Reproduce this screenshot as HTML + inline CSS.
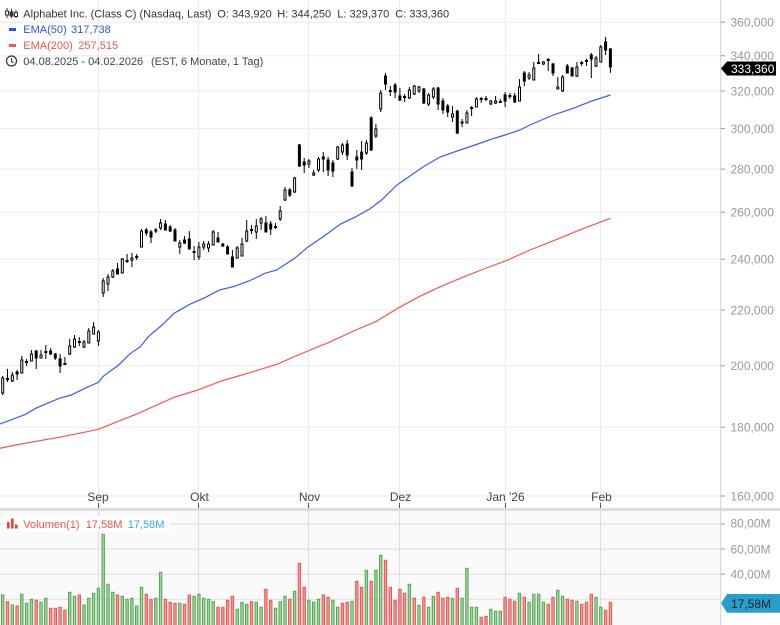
<!DOCTYPE html>
<html><head><meta charset="utf-8"><style>
html,body{margin:0;padding:0;background:#fff;}
body{width:780px;height:625px;overflow:hidden;}
svg{display:block;font-family:"Liberation Sans",Arial,sans-serif;}
</style></head><body>
<svg width="780" height="625" viewBox="0 0 780 625" xmlns="http://www.w3.org/2000/svg">
<rect x="0" y="0" width="780" height="625" fill="#fff"/>
<rect x="0" y="511" width="720.5" height="114" fill="#fafafa"/>
<g stroke="#ebebeb" stroke-width="1" fill="none">
<path d="M0 22.3H720.5M0 55.7H720.5M0 91H720.5M0 128.6H720.5M0 169.1H720.5M0 212.3H720.5M0 259.2H720.5M0 310H720.5M0 365.7H720.5M0 427.2H720.5M0 496H720.5"/>
<path d="M98.5 0V503M198.5 0V503M308.5 0V503M399.5 0V503M505.5 0V503M600.5 0V503"/>
</g>
<g stroke="#dedede" stroke-width="1" fill="none">
<path d="M0 524H720.5M0 549H720.5M0 574.3H720.5M0 599.3H720.5"/>
<path d="M98.5 511V625M198.5 511V625M308.5 511V625M399.5 511V625M505.5 511V625M600.5 511V625"/>
</g>
<rect x="0" y="508" width="780" height="3" fill="#dcdcdc"/>
<path d="M98.5 503V508M198.5 503V508M308.5 503V508M399.5 503V508M505.5 503V508M600.5 503V508" stroke="#555" stroke-width="1"/>
<path d="M720.7 0V625" stroke="#d0d0d0" stroke-width="1"/>
<path d="M721 22.3h4M721 55.7h4M721 91h4M721 128.6h4M721 169.1h4M721 212.3h4M721 259.2h4M721 310h4M721 365.7h4M721 427.2h4M721 496h4M721 524h4M721 549h4M721 574.3h4" stroke="#999" stroke-width="1"/>

<polyline fill="none" stroke="#f25a4a" stroke-width="1.2" points="0,448.3 15.8,445 39.5,440.7 59.3,437.3 79.1,433.3 98.5,429.3 114.7,422.7 138.4,413.3 174,397.3 197.7,390 221.4,381 253.1,371.7 276.8,364.3 300.5,354 328.2,342.7 355.9,330 375.6,321.7 399.4,307.3 419.1,296.7 438.9,287.3 462.6,277.3 486.4,268 506.1,260.7 529.9,250 553.6,240.7 581.3,229.3 610.4,218.3"/>
<polyline fill="none" stroke="#3a5cf5" stroke-width="1.2" points="0,424 25.7,414.3 35.6,408.3 59.3,398.3 71.2,395 85,388.3 98.5,382.3 102.8,376.7 118.6,365 130.5,353.3 140.4,346.7 148.3,336.7 162.1,325 174,313.3 189.8,304.3 205.6,297.3 219.5,290 233.3,286.7 249.1,281 264.9,273.3 276.8,270 294.6,258.3 308.4,246.7 324.2,236 340.1,224.3 355.9,216.7 369.7,209 381.6,200 397,185 410,176 423,167 440,157 460,150 475,145 491,139.3 505,135 520,130 530,125 553.3,115 573.3,108.3 590,101.7 610.4,95"/>

<path stroke="#000" stroke-width="1" fill="none" d="M2.7 376V395M7.5 369V382M12.3 372V382M17.1 370V380M21.8 356V373M26.6 359V366M31.4 350V361M36.2 350V369M41 350V358M45.8 345V359M50.6 348V355M55.3 353V360M60.1 354V373M64.9 357V365M69.7 339V355M74.5 335V348M79.3 337V346M84 340V348M88.8 328V343M93.6 322V334M98.4 330V346M103.2 278V297M108 274V291M112.8 269V278M117.5 263V274M122.3 258V273M127.1 254V263M131.9 253V267M136.7 254V260M141.5 229V247M146.3 228V236M151 230V243M155.8 228V233M160.6 219V230M165.4 220V230M170.2 225V232M175 228V241M179.8 240V254M184.5 236V244M189.3 231V249M194.1 246V260M198.9 242V260M203.7 241V250M208.5 241V252M213.2 230V245M218 232V242M222.8 243V247M227.6 245V254M232.4 250V267M237.2 246V258M242 238V256M246.7 220V242M251.5 225V234M256.3 219V239M261.1 217V230M265.9 216V232M270.7 221V235M275.5 223V229M280.2 206V221M285 187V201M289.8 188V197M294.6 177V193M299.4 144V167M304.2 158V173M308.9 159V168M313.7 170V176M318.5 157V172M323.3 152V172M328.1 157V176M332.9 160V177M337.7 146V160M342.4 143V155M347.2 140V160M352 168V187M356.8 150V169M361.6 141V170M366.4 140V155M371.2 116V151M375.9 124V138M380.7 90V112M385.5 73V90M390.3 86V96M395.1 83V98M399.9 88V101M404.6 94V102M409.4 87V99M414.2 85V95M419 86V93M423.8 88V104M428.6 93V106M433.4 87V99M438.1 87V110M442.9 98V114M447.7 104V117M452.5 106V122M457.3 110V134M462.1 119V127M466.9 110V123M471.6 106V116M476.4 97V107M481.2 97V103M486 96V101M490.8 100V105M495.6 96V104M500.3 99V103M505.1 92V107M509.9 93V99M514.7 93V103M519.5 79V101M524.3 71V86M529.1 72V80M533.8 62V80M538.6 54V64M543.4 61V65M548.2 58V71M553 63V76M557.8 77V89M562.6 75V92M567.3 64V73M572.1 67V76M576.9 62V77M581.7 61V66M586.5 59V66M591.3 53V78M596 56V67M600.8 45V62M605.6 37V55M610.4 48V73"/>
<g fill="#fff" stroke="#000" stroke-width="1">
<rect x="1.7" y="378" width="2" height="15"/><rect x="11.3" y="375" width="2" height="6"/><rect x="20.8" y="360" width="2" height="13"/><rect x="30.4" y="354" width="2" height="7"/><rect x="40" y="355" width="2" height="3"/><rect x="68.7" y="346" width="2" height="8"/><rect x="73.5" y="339" width="2" height="8"/><rect x="83" y="342" width="2" height="5"/><rect x="87.8" y="331" width="2" height="12"/><rect x="92.6" y="327" width="2" height="7"/><rect x="97.4" y="332" width="2" height="9"/><rect x="102.2" y="281" width="2" height="12"/><rect x="107" y="277" width="2" height="7"/><rect x="111.8" y="271" width="2" height="6"/><rect x="121.3" y="259" width="2" height="14"/><rect x="130.9" y="258" width="2" height="2"/><rect x="140.5" y="231" width="2" height="16"/><rect x="159.6" y="223" width="2" height="5"/><rect x="178.8" y="243" width="2" height="4"/><rect x="197.9" y="247" width="2" height="10"/><rect x="202.7" y="244" width="2" height="3"/><rect x="207.5" y="244" width="2" height="4"/><rect x="212.2" y="232" width="2" height="13"/><rect x="236.2" y="248" width="2" height="10"/><rect x="241" y="244" width="2" height="12"/><rect x="245.7" y="231" width="2" height="10"/><rect x="255.3" y="226" width="2" height="6"/><rect x="260.1" y="219" width="2" height="4"/><rect x="279.2" y="211" width="2" height="8"/><rect x="284" y="190" width="2" height="10"/><rect x="293.6" y="178" width="2" height="14"/><rect x="307.9" y="161" width="2" height="3"/><rect x="312.7" y="173" width="2" height="2"/><rect x="317.5" y="159" width="2" height="11"/><rect x="336.7" y="147" width="2" height="12"/><rect x="341.4" y="145" width="2" height="7"/><rect x="365.4" y="143" width="2" height="10"/><rect x="374.9" y="129" width="2" height="7"/><rect x="379.7" y="93" width="2" height="16"/><rect x="408.4" y="90" width="2" height="8"/><rect x="413.2" y="86" width="2" height="8"/><rect x="418" y="87" width="2" height="4"/><rect x="427.6" y="95" width="2" height="9"/><rect x="432.4" y="89" width="2" height="8"/><rect x="451.5" y="114" width="2" height="3"/><rect x="465.9" y="113" width="2" height="10"/><rect x="475.4" y="99" width="2" height="8"/><rect x="489.8" y="101" width="2" height="3"/><rect x="494.6" y="101" width="2" height="2"/><rect x="518.5" y="87" width="2" height="14"/><rect x="528.1" y="75" width="2" height="3"/><rect x="532.8" y="68" width="2" height="12"/><rect x="542.4" y="62" width="2" height="2"/><rect x="556.8" y="87" width="2" height="2"/><rect x="561.6" y="77" width="2" height="14"/><rect x="575.9" y="67" width="2" height="9"/><rect x="595" y="58" width="2" height="8"/><rect x="599.8" y="47" width="2" height="15"/>
</g>
<g fill="#000">
<rect x="6" y="378" width="3" height="2"/><rect x="15.6" y="371.5" width="3" height="3"/><rect x="25.1" y="361" width="3" height="2"/><rect x="34.7" y="350.5" width="3" height="8"/><rect x="44.3" y="351" width="3" height="2"/><rect x="49.1" y="350.5" width="3" height="4"/><rect x="53.8" y="353.5" width="3" height="5"/><rect x="58.6" y="358.5" width="3" height="8"/><rect x="63.4" y="363" width="3" height="2"/><rect x="77.8" y="341" width="3" height="2"/><rect x="116" y="268.5" width="3" height="6"/><rect x="125.6" y="260" width="3" height="2"/><rect x="135.2" y="256" width="3" height="2"/><rect x="144.8" y="229.5" width="3" height="4"/><rect x="149.5" y="231.5" width="3" height="6"/><rect x="154.3" y="229.5" width="3" height="2"/><rect x="163.9" y="223.5" width="3" height="7"/><rect x="168.7" y="226.5" width="3" height="5"/><rect x="173.5" y="229.5" width="3" height="12"/><rect x="183" y="239.5" width="3" height="4"/><rect x="187.8" y="238.5" width="3" height="11"/><rect x="192.6" y="251" width="3" height="2"/><rect x="216.5" y="237.5" width="3" height="5"/><rect x="221.3" y="243.5" width="3" height="3"/><rect x="226.1" y="246.5" width="3" height="8"/><rect x="230.9" y="256.5" width="3" height="11"/><rect x="250" y="229" width="3" height="2"/><rect x="264.4" y="222.5" width="3" height="10"/><rect x="269.2" y="223.5" width="3" height="6"/><rect x="274" y="226" width="3" height="2"/><rect x="288.3" y="189.5" width="3" height="6"/><rect x="297.9" y="144.5" width="3" height="22"/><rect x="302.7" y="161.5" width="3" height="4"/><rect x="321.8" y="156.5" width="3" height="3"/><rect x="326.6" y="159.5" width="3" height="11"/><rect x="331.4" y="162.5" width="3" height="9"/><rect x="345.7" y="143.5" width="3" height="12"/><rect x="350.5" y="171.5" width="3" height="15"/><rect x="355.3" y="156.5" width="3" height="4"/><rect x="360.1" y="151.5" width="3" height="8"/><rect x="369.7" y="117.5" width="3" height="33"/><rect x="384" y="75.5" width="3" height="9"/><rect x="388.8" y="90" width="3" height="2"/><rect x="393.6" y="84.5" width="3" height="8"/><rect x="398.4" y="95.5" width="3" height="5"/><rect x="403.1" y="96" width="3" height="2"/><rect x="422.3" y="88.5" width="3" height="15"/><rect x="436.6" y="87.5" width="3" height="17"/><rect x="441.4" y="100.5" width="3" height="10"/><rect x="446.2" y="105.5" width="3" height="7"/><rect x="455.8" y="110.5" width="3" height="23"/><rect x="460.6" y="121.5" width="3" height="2"/><rect x="470.1" y="107" width="3" height="2"/><rect x="479.7" y="98" width="3" height="2"/><rect x="484.5" y="98" width="3" height="2"/><rect x="498.8" y="101" width="3" height="2"/><rect x="503.6" y="94.5" width="3" height="7"/><rect x="508.4" y="95" width="3" height="2"/><rect x="513.2" y="95.5" width="3" height="7"/><rect x="522.8" y="72.5" width="3" height="9"/><rect x="537.1" y="62" width="3" height="2"/><rect x="546.7" y="59" width="3" height="2"/><rect x="551.5" y="63.5" width="3" height="10"/><rect x="565.8" y="65.5" width="3" height="8"/><rect x="570.6" y="67.5" width="3" height="9"/><rect x="580.2" y="62" width="3" height="2"/><rect x="585" y="60" width="3" height="2"/><rect x="589.8" y="54.5" width="3" height="5"/><rect x="604.1" y="41.5" width="3" height="9"/><rect x="608.9" y="48.5" width="3" height="19"/>
</g>

<g fill="#9dd89d" stroke="#57a457" stroke-width="1">
<rect x="1.5" y="595" width="2.4" height="31"/><rect x="11.1" y="605" width="2.4" height="21"/><rect x="20.6" y="594.3" width="2.4" height="31.7"/><rect x="25.4" y="603.3" width="2.4" height="22.7"/><rect x="30.2" y="599.3" width="2.4" height="26.7"/><rect x="39.8" y="602.3" width="2.4" height="23.7"/><rect x="44.6" y="598.3" width="2.4" height="27.7"/><rect x="68.5" y="592.3" width="2.4" height="33.7"/><rect x="73.3" y="596.3" width="2.4" height="29.7"/><rect x="82.8" y="605" width="2.4" height="21"/><rect x="87.6" y="598.3" width="2.4" height="27.7"/><rect x="92.4" y="593.3" width="2.4" height="32.7"/><rect x="97.2" y="588.3" width="2.4" height="37.7"/><rect x="102" y="534.3" width="2.4" height="91.7"/><rect x="106.8" y="584.3" width="2.4" height="41.7"/><rect x="111.6" y="592.3" width="2.4" height="33.7"/><rect x="121.1" y="596.3" width="2.4" height="29.7"/><rect x="125.9" y="599.3" width="2.4" height="26.7"/><rect x="130.7" y="598.3" width="2.4" height="27.7"/><rect x="135.5" y="606" width="2.4" height="20"/><rect x="140.3" y="587.3" width="2.4" height="38.7"/><rect x="154.6" y="598.3" width="2.4" height="27.7"/><rect x="159.4" y="572.3" width="2.4" height="53.7"/><rect x="178.6" y="603.3" width="2.4" height="22.7"/><rect x="192.9" y="596.3" width="2.4" height="29.7"/><rect x="197.7" y="594.3" width="2.4" height="31.7"/><rect x="202.5" y="598.3" width="2.4" height="27.7"/><rect x="207.3" y="599.3" width="2.4" height="26.7"/><rect x="212" y="601.7" width="2.4" height="24.3"/><rect x="236" y="609.3" width="2.4" height="16.7"/><rect x="240.8" y="602.3" width="2.4" height="23.7"/><rect x="245.5" y="604.3" width="2.4" height="21.7"/><rect x="255.1" y="602.3" width="2.4" height="23.7"/><rect x="259.9" y="607.3" width="2.4" height="18.7"/><rect x="274.3" y="608.3" width="2.4" height="17.7"/><rect x="279" y="601.7" width="2.4" height="24.3"/><rect x="283.8" y="596.3" width="2.4" height="29.7"/><rect x="293.4" y="591.3" width="2.4" height="34.7"/><rect x="307.7" y="600.3" width="2.4" height="25.7"/><rect x="312.5" y="602.3" width="2.4" height="23.7"/><rect x="317.3" y="599.3" width="2.4" height="26.7"/><rect x="331.7" y="600.3" width="2.4" height="25.7"/><rect x="336.5" y="607.3" width="2.4" height="18.7"/><rect x="350.8" y="601.3" width="2.4" height="24.7"/><rect x="365.2" y="570.3" width="2.4" height="55.7"/><rect x="374.7" y="570.3" width="2.4" height="55.7"/><rect x="379.5" y="555.3" width="2.4" height="70.7"/><rect x="408.2" y="584.3" width="2.4" height="41.7"/><rect x="417.8" y="605.3" width="2.4" height="20.7"/><rect x="427.4" y="607.3" width="2.4" height="18.7"/><rect x="432.2" y="596.3" width="2.4" height="29.7"/><rect x="451.3" y="598.3" width="2.4" height="27.7"/><rect x="460.9" y="598.3" width="2.4" height="27.7"/><rect x="465.7" y="568.3" width="2.4" height="57.7"/><rect x="470.4" y="607.3" width="2.4" height="18.7"/><rect x="475.2" y="607.3" width="2.4" height="18.7"/><rect x="489.6" y="609.3" width="2.4" height="16.7"/><rect x="494.4" y="611.3" width="2.4" height="14.7"/><rect x="499.1" y="611.3" width="2.4" height="14.7"/><rect x="518.3" y="593.3" width="2.4" height="32.7"/><rect x="527.9" y="602.3" width="2.4" height="23.7"/><rect x="532.6" y="594.3" width="2.4" height="31.7"/><rect x="537.4" y="594.3" width="2.4" height="31.7"/><rect x="542.2" y="602.3" width="2.4" height="23.7"/><rect x="556.6" y="590.3" width="2.4" height="35.7"/><rect x="561.4" y="596.3" width="2.4" height="29.7"/><rect x="575.7" y="601.3" width="2.4" height="24.7"/><rect x="594.8" y="597.3" width="2.4" height="28.7"/><rect x="599.6" y="607.3" width="2.4" height="18.7"/>
</g>
<g fill="#f69595" stroke="#e45a55" stroke-width="1">
<rect x="6.3" y="601.7" width="2.4" height="24.3"/><rect x="15.9" y="606" width="2.4" height="20"/><rect x="35" y="600.3" width="2.4" height="25.7"/><rect x="49.4" y="608.3" width="2.4" height="17.7"/><rect x="54.1" y="608.3" width="2.4" height="17.7"/><rect x="58.9" y="607.3" width="2.4" height="18.7"/><rect x="63.7" y="610.3" width="2.4" height="15.7"/><rect x="78.1" y="595" width="2.4" height="31"/><rect x="116.3" y="595" width="2.4" height="31"/><rect x="145.1" y="594.3" width="2.4" height="31.7"/><rect x="149.8" y="599.3" width="2.4" height="26.7"/><rect x="164.2" y="599.3" width="2.4" height="26.7"/><rect x="169" y="602.3" width="2.4" height="23.7"/><rect x="173.8" y="603.3" width="2.4" height="22.7"/><rect x="183.3" y="604.3" width="2.4" height="21.7"/><rect x="188.1" y="595" width="2.4" height="31"/><rect x="216.8" y="607.3" width="2.4" height="18.7"/><rect x="221.6" y="607.3" width="2.4" height="18.7"/><rect x="226.4" y="600.3" width="2.4" height="25.7"/><rect x="231.2" y="596.3" width="2.4" height="29.7"/><rect x="250.3" y="601.7" width="2.4" height="24.3"/><rect x="264.7" y="589.3" width="2.4" height="36.7"/><rect x="269.5" y="600.3" width="2.4" height="25.7"/><rect x="288.6" y="599.3" width="2.4" height="26.7"/><rect x="298.2" y="563.3" width="2.4" height="62.7"/><rect x="303" y="587.3" width="2.4" height="38.7"/><rect x="322.1" y="595" width="2.4" height="31"/><rect x="326.9" y="597.3" width="2.4" height="28.7"/><rect x="341.2" y="603.3" width="2.4" height="22.7"/><rect x="346" y="602.3" width="2.4" height="23.7"/><rect x="355.6" y="581.3" width="2.4" height="44.7"/><rect x="360.4" y="587.3" width="2.4" height="38.7"/><rect x="370" y="581.3" width="2.4" height="44.7"/><rect x="384.3" y="560.3" width="2.4" height="65.7"/><rect x="389.1" y="587.3" width="2.4" height="38.7"/><rect x="393.9" y="600.3" width="2.4" height="25.7"/><rect x="398.7" y="589.3" width="2.4" height="36.7"/><rect x="403.4" y="593.3" width="2.4" height="32.7"/><rect x="413" y="598.3" width="2.4" height="27.7"/><rect x="422.6" y="597.3" width="2.4" height="28.7"/><rect x="436.9" y="592.3" width="2.4" height="33.7"/><rect x="441.7" y="598.3" width="2.4" height="27.7"/><rect x="446.5" y="597.3" width="2.4" height="28.7"/><rect x="456.1" y="588.3" width="2.4" height="37.7"/><rect x="480" y="617.3" width="2.4" height="8.7"/><rect x="484.8" y="616.3" width="2.4" height="9.7"/><rect x="503.9" y="597.3" width="2.4" height="28.7"/><rect x="508.7" y="599.3" width="2.4" height="26.7"/><rect x="513.5" y="601.3" width="2.4" height="24.7"/><rect x="523.1" y="597.3" width="2.4" height="28.7"/><rect x="547" y="604.3" width="2.4" height="21.7"/><rect x="551.8" y="597.3" width="2.4" height="28.7"/><rect x="566.1" y="599.3" width="2.4" height="26.7"/><rect x="570.9" y="600.3" width="2.4" height="25.7"/><rect x="580.5" y="604.3" width="2.4" height="21.7"/><rect x="585.3" y="602.3" width="2.4" height="23.7"/><rect x="590.1" y="594.3" width="2.4" height="31.7"/><rect x="604.4" y="610.3" width="2.4" height="15.7"/><rect x="609.2" y="602.3" width="2.4" height="23.7"/>
</g>

<g font-size="12" fill="#999">
<text x="730.5" y="26.6">360,000</text>
<text x="730.5" y="60">340,000</text>
<text x="730.5" y="95.3">320,000</text>
<text x="730.5" y="132.9">300,000</text>
<text x="730.5" y="173.4">280,000</text>
<text x="730.5" y="216.6">260,000</text>
<text x="730.5" y="263.5">240,000</text>
<text x="730.5" y="314.3">220,000</text>
<text x="730.5" y="370">200,000</text>
<text x="730.5" y="431.5">180,000</text>
<text x="730.5" y="500.3">160,000</text>
<text x="730.5" y="527.6">80,00M</text>
<text x="730.5" y="553.3">60,00M</text>
<text x="730.5" y="578.3">40,00M</text>
</g>
<polygon points="721,68.5 727,61.5 776,61.5 776,75.5 727,75.5" fill="#000"/>
<text x="731" y="72.8" font-size="12" fill="#fff">333,360</text>
<polygon points="721,603.3 727,594 780,594 780,612.7 727,612.7" fill="#2a9dc8"/>
<text x="731" y="607.8" font-size="12" fill="#0d2634">17,58M</text>

<g font-size="12" fill="#444" text-anchor="middle">
<text x="98" y="501">Sep</text>
<text x="199.5" y="501">Okt</text>
<text x="309.5" y="501">Nov</text>
<text x="400.5" y="501">Dez</text>
<text x="505.5" y="501">Jan '26</text>
<text x="601.5" y="501">Feb</text>
</g>

<g stroke="#333" stroke-width="1" fill="none">
<path d="M7 8v10M11.5 9v9M16 10v8"/>
<rect x="5.5" y="11" width="3" height="4" fill="#fff"/>
<rect x="10" y="12" width="3" height="4" fill="#333"/>
<rect x="14.5" y="12.5" width="3" height="4" fill="#fff"/>
<circle cx="11.5" cy="61" r="5" stroke-width="1.2"/>
<path d="M11.5 58v3.3l2 1.5" stroke-width="1.1"/>
</g>
<rect x="9" y="28" width="7" height="3" fill="#3050f5"/>
<rect x="9" y="44" width="7" height="3" fill="#f2554a"/>
<g font-size="11">
<text x="23.3" y="17.3" fill="#333">Alphabet Inc. (Class C) (Nasdaq, Last)</text>
<text x="217.3" y="17.3" fill="#333">O: 343,920</text>
<text x="277.3" y="17.3" fill="#333">H: 344,250</text>
<text x="337.3" y="17.3" fill="#333">L: 329,370</text>
<text x="395.3" y="17.3" fill="#333">C: 333,360</text>
<text x="23.3" y="33.2" fill="#3050f5">EMA(50)</text>
<text x="71" y="33.2" fill="#3050f5">317,738</text>
<text x="23.3" y="49" fill="#f2554a">EMA(200)</text>
<text x="78.3" y="49" fill="#f2554a">257,515</text>
<text x="23.3" y="65" fill="#444">04.08.2025 - 04.02.2026</text>
<text x="151" y="65" fill="#444">(EST, 6 Monate, 1 Tag)</text>
</g>

<rect x="4" y="516" width="166" height="16" fill="#fff"/>
<g fill="#e8433a">
<rect x="7" y="522" width="2.6" height="6.5"/>
<rect x="11" y="518.5" width="2.6" height="10"/>
<rect x="15" y="524.5" width="2.6" height="4"/>
</g>
<g font-size="11">
<text x="23.3" y="528" fill="#f0554a">Volumen(1)</text>
<text x="85.7" y="528" fill="#f0554a">17,58M</text>
<text x="127.7" y="528" fill="#3aa7d0">17,58M</text>
</g>
</svg>
</body></html>
